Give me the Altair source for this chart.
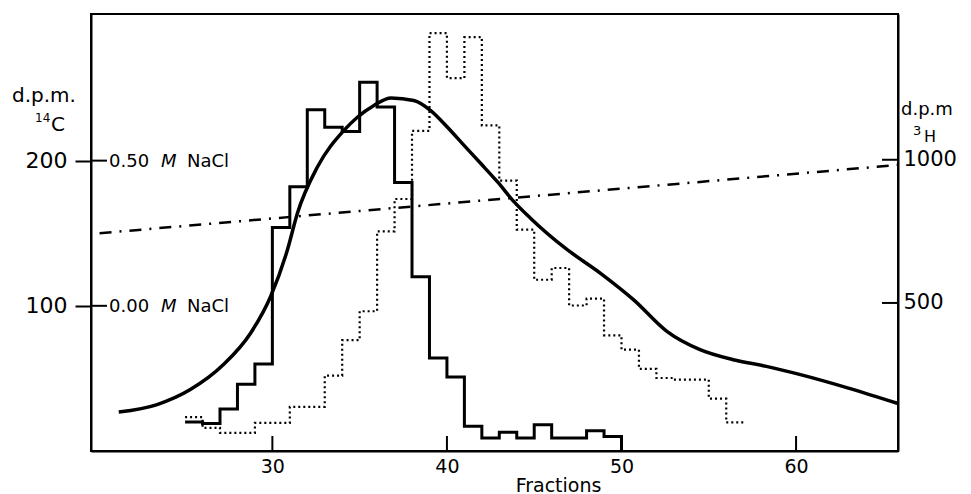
import altair as alt
import pandas as pd

# ---------------- data ----------------
frac_14c = list(range(25, 51))
dpm_14c = [20, 19, 29, 46, 60, 154, 182, 235, 223, 220, 254, 237, 185, 120,
           64, 51, 17, 9, 13, 9, 18, 9, 9, 14, 10, 0]

frac_3h = list(range(25, 58))
dpm_3h = [101, 64, 46, 46, 81, 81, 137, 137, 246, 370, 471, 750, 863, 1101,
          1442, 1285, 1428, 1120, 927, 756, 581, 622, 491, 515, 387, 337, 270,
          238, 232, 232, 166, 83, 83]

curve_frac = [21.2, 23.4, 25.3, 27.2, 28.76, 29.9, 30.86, 31.43, 32.58, 34.1,
              34.87, 35.82, 36.8, 38.1, 39.07, 40.03, 40.98, 41.94, 42.9,
              43.85, 44.8, 46.8, 48.8, 50.7, 52.6, 54.5, 56.4, 58.3, 60.25,
              62.95, 65.84]
curve_val = [26.8, 32, 42.3, 59.5, 81.3, 106.4, 138.4, 163.6, 195.6, 220.8,
             229.9, 238, 243.2, 241.4, 234.5, 223, 210.5, 198, 185.3, 171.6,
             160.2, 139.5, 122.4, 104.1, 82.4, 69.8, 62.9, 58.3, 52.6, 43.5,
             32.7]

nacl_frac = [20.1, 65.84]
nacl_val = [150, 197]

left_ticks = [100, 200]
nacl_labels = ["0.00", "0.50"]
right_ticks = [500, 1000]
x_ticks = [30, 40, 50, 60]

# ---------------- layout ----------------
W, H = 807, 437
FONT = "DejaVu Sans"
X_DOMAIN = [19.61, 65.84]
YL_DOMAIN = [0, 301]
YR_DOMAIN = [-17, 1509]

x_axis = alt.Axis(values=x_ticks, ticks=False, labelPadding=6, labelFontSize=19,
                  labelFont=FONT, labelColor="black", domainColor="black",
                  domainWidth=2, grid=False, title="Fractions", titleFont=FONT,
                  titleFontSize=19, titleFontWeight="normal", titleColor="black",
                  titleX=467, titleY=40, titleBaseline="alphabetic",
                  titleAlign="center", format="d")
yl_axis = alt.Axis(values=left_ticks, tickSize=16, tickWidth=2, tickColor="black",
                   labelPadding=8, labelFontSize=22, labelFont=FONT,
                   labelColor="black", domainColor="black", domainWidth=2,
                   grid=False, title=None, format="d")
yr_axis = alt.Axis(values=right_ticks, orient="right", ticks=False, labelPadding=5,
                   labelFontSize=21, labelFont=FONT, labelColor="black",
                   domainColor="black", domainWidth=2, grid=False, title=None,
                   format="d")


def X(field):
    return alt.X(field, type="quantitative",
                 scale=alt.Scale(domain=X_DOMAIN, nice=False, zero=False),
                 axis=x_axis)


def YL(field):
    return alt.Y(field, type="quantitative",
                 scale=alt.Scale(domain=YL_DOMAIN, nice=False, zero=False),
                 axis=yl_axis)


def YR(field):
    return alt.Y(field, type="quantitative",
                 scale=alt.Scale(domain=YR_DOMAIN, nice=False, zero=False),
                 axis=yr_axis)


df14 = pd.DataFrame({"frac": frac_14c, "v": dpm_14c})
df3h = pd.DataFrame({"frac": frac_3h, "v": dpm_3h})
dfc = pd.DataFrame({"frac": curve_frac, "v": curve_val})
dfn = pd.DataFrame({"frac": nacl_frac, "v": nacl_val})
dflt = pd.DataFrame({"v": left_ticks, "lab": nacl_labels})
dfrt = pd.DataFrame({"v": right_ticks})
dfxt = pd.DataFrame({"frac": x_ticks})
one = pd.DataFrame({"a": [0]})

c14 = alt.Chart(df14).mark_line(interpolate="step-after", color="black",
                                 strokeWidth=3).encode(x=X("frac"), y=YL("v"))
curve = alt.Chart(dfc).mark_line(interpolate="monotone", color="black",
                                 strokeWidth=3.5).encode(x=X("frac"), y=YL("v"))
nacl = alt.Chart(dfn).mark_line(color="black", strokeWidth=2.5,
                                strokeDash=[12, 8, 2, 8]).encode(x=X("frac"), y=YL("v"))
inner_l = alt.Chart(dflt).mark_rule(color="black", strokeWidth=2).encode(
    x=alt.value(0), x2=alt.value(16), y=YL("v"))
lab_num = alt.Chart(dflt).mark_text(align="left", baseline="alphabetic", dy=6,
                                    font=FONT, fontSize=18, color="black").encode(
    x=alt.value(18), y=YL("v"), text="lab:N")
lab_m = alt.Chart(dflt).mark_text(align="left", baseline="alphabetic", dy=6,
                                  font=FONT, fontSize=18, fontStyle="italic",
                                  color="black", text="M").encode(
    x=alt.value(70), y=YL("v"))
lab_nacl = alt.Chart(dflt).mark_text(align="left", baseline="alphabetic", dy=6,
                                     font=FONT, fontSize=18, color="black",
                                     text="NaCl").encode(
    x=alt.value(96), y=YL("v"))
bottom_t = alt.Chart(dfxt).mark_rule(color="black", strokeWidth=2).encode(
    x=X("frac"), y=alt.value(H - 15), y2=alt.value(H))


def corner(txt, px, py, size):
    return alt.Chart(one).mark_text(text=txt, align="left", baseline="alphabetic",
                                    font=FONT, fontSize=size, color="black").encode(
        x=alt.value(px), y=alt.value(py))


texts = [corner("d.p.m.", -79, 88, 20), corner("14", -56, 108, 12),
         corner("C", -40, 117, 20),
         corner("d.p.m", 810, 101, 18), corner("3", 822, 121, 13),
         corner("H", 833, 128, 16)]

left = alt.layer(nacl, curve, c14, inner_l, lab_num, lab_m, lab_nacl, bottom_t, *texts)

h3 = alt.Chart(df3h).mark_line(interpolate="step-after", color="black",
                               strokeWidth=2.2, strokeDash=[2, 3]).encode(
    x=X("frac"), y=YR("v"))
inner_r = alt.Chart(dfrt).mark_rule(color="black", strokeWidth=2).encode(
    x=alt.value(W - 16), x2=alt.value(W), y=YR("v"))
right = alt.layer(h3, inner_r)

chart = alt.layer(left, right).resolve_scale(y="independent").properties(
    width=W, height=H,
    autosize=alt.AutoSizeParams(type="none"),
    padding={"left": 83, "top": 6, "right": 62, "bottom": 47},
    background="white",
).configure_view(stroke="black", strokeWidth=2)

chart.save("out.html", embed_options={"renderer": "svg", "actions": False})
